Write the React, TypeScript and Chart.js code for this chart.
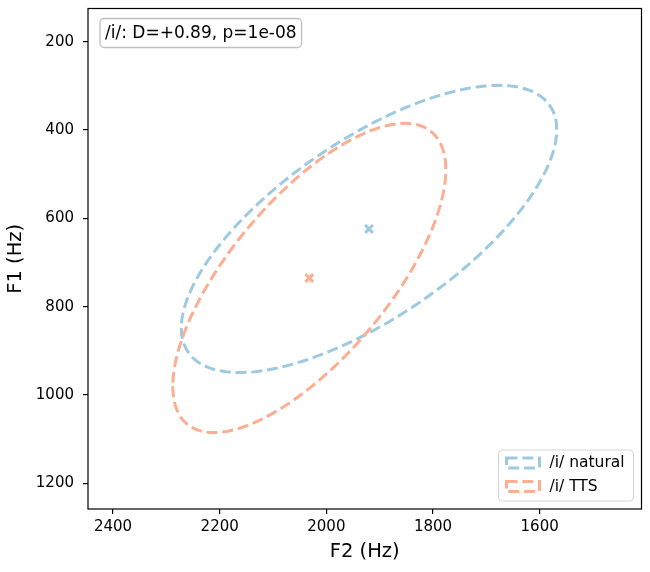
import { useEffect, useRef } from "react"
import { Chart, registerables } from "chart.js"

Chart.register(...registerables)

// Formant ellipses (F2 on x, F1 on y, both in Hz)
const groups = ["/i/ natural", "/i/ TTS"]
const colors = ["#9ecae1", "#fcae91"]
const centerF2 = [1920, 2032]
const centerF1 = [624, 735]
const spreadF2 = [352, 256]
const spreadF1 = [325, 350]
const correlation = [0.69, 0.7]
const f2Ticks = [2400, 2200, 2000, 1800, 1600]
const f1Ticks = [200, 400, 600, 800, 1000, 1200]
const statLabel = "/i/: D=+0.89, p=1e-08"

const FONT = "DejaVu Sans"

// outline of an ellipse given its centre, spread along each axis and correlation
function ellipseOutline(i: number) {
  const pts: { x: number; y: number }[] = []
  const k = Math.sqrt(1 - correlation[i] * correlation[i])
  for (let s = 0; s <= 240; s++) {
    const t = (s / 240) * 2 * Math.PI
    pts.push({
      x: centerF2[i] + spreadF2[i] * Math.cos(t),
      y: centerF1[i] + spreadF1[i] * (correlation[i] * Math.cos(t) + k * Math.sin(t)),
    })
  }
  return pts
}

function roundRect(ctx: CanvasRenderingContext2D, x: number, y: number, w: number, h: number, r: number) {
  ctx.beginPath()
  ctx.moveTo(x + r, y)
  ctx.lineTo(x + w - r, y)
  ctx.arcTo(x + w, y, x + w, y + r, r)
  ctx.lineTo(x + w, y + h - r)
  ctx.arcTo(x + w, y + h, x + w - r, y + h, r)
  ctx.lineTo(x + r, y + h)
  ctx.arcTo(x, y + h, x, y + h - r, r)
  ctx.lineTo(x, y + r)
  ctx.arcTo(x, y, x + r, y, r)
  ctx.closePath()
}

const decorations = {
  id: "decorations",
  afterDraw(chart: Chart) {
    const { ctx, chartArea } = chart
    const { left, top, right, bottom } = chartArea
    ctx.save()
    // axes frame
    ctx.strokeStyle = "#000"
    ctx.lineWidth = 1.2
    ctx.setLineDash([])
    ctx.strokeRect(left, top, right - left, bottom - top)

    // stats text box
    ctx.font = `17px "${FONT}"`
    const tw = ctx.measureText(statLabel).width
    roundRect(ctx, left + 12, top + 10, tw + 10, 29, 4)
    ctx.fillStyle = "rgba(255,255,255,0.9)"
    ctx.fill()
    ctx.strokeStyle = "#bfbfbf"
    ctx.lineWidth = 1.3
    ctx.stroke()
    ctx.fillStyle = "#000"
    ctx.textBaseline = "middle"
    ctx.textAlign = "left"
    ctx.fillText(statLabel, left + 17, top + 25)

    // legend
    const lx = right - 143
    const ly = bottom - 59
    roundRect(ctx, lx, ly, 135, 51, 4)
    ctx.fillStyle = "rgba(255,255,255,0.8)"
    ctx.fill()
    ctx.strokeStyle = "#d5d5d5"
    ctx.lineWidth = 1
    ctx.stroke()
    ctx.font = `15.5px "${FONT}"`
    groups.forEach((g, i) => {
      const cy = ly + 13 + i * 23.5
      ctx.strokeStyle = colors[i]
      ctx.lineWidth = 3
      ctx.setLineDash([11, 4.8])
      ctx.strokeRect(lx + 8, cy - 5, 33, 10)
      ctx.setLineDash([])
      ctx.fillStyle = "#000"
      ctx.fillText(g, lx + 51, cy)
    })
    ctx.restore()
  },
}

export default function App() {
  const chartRef = useRef<HTMLCanvasElement>(null)
  const chartInstance = useRef<Chart | null>(null)

  useEffect(() => {
    document.body.style.margin = "0"
    if (!chartRef.current) return
    if (chartInstance.current) chartInstance.current.destroy()

    const markerSets = groups.map((g, i) => ({
      label: g + " mean",
      data: [{ x: centerF2[i], y: centerF1[i] }],
      showLine: false,
      pointStyle: "crossRot" as const,
      pointRadius: 5.5,
      pointHoverRadius: 5.5,
      borderWidth: 3,
      pointBorderWidth: 3,
      borderColor: colors[i],
      backgroundColor: colors[i],
    }))
    const ellipseSets = groups
      .map((g, i) => ({
        label: g,
        data: ellipseOutline(i),
        showLine: true,
        fill: false,
        pointRadius: 0,
        pointHoverRadius: 0,
        borderWidth: 3,
        borderDash: [11, 4.8],
        borderColor: colors[i],
        backgroundColor: colors[i],
        tension: 0,
      }))
      .reverse()

    const tickFont = { family: FONT, size: 15 }
    const gridOpts = { drawOnChartArea: false, tickLength: 5, color: "#000", lineWidth: 1.2 }

    chartInstance.current = new Chart(chartRef.current, {
      type: "scatter",
      data: { datasets: [...markerSets, ...ellipseSets] as any },
      options: {
        responsive: false,
        animation: false,
        layout: { padding: { top: 7, right: 7, left: 0, bottom: 0 } },
        plugins: {
          legend: { display: false },
          tooltip: { enabled: false },
        },
        scales: {
          x: {
            type: "linear",
            reverse: true,
            min: 1409,
            max: 2447,
            afterBuildTicks: (s: any) => {
              s.ticks = f2Ticks.map((v) => ({ value: v }))
            },
            afterFit: (s: any) => {
              s.height = 63
              s.paddingLeft = 0
              s.paddingRight = 0
            },
            ticks: { font: tickFont, color: "#000", padding: 4, callback: (v: any) => String(v), maxRotation: 0 },
            grid: gridOpts,
            border: { display: false },
            title: { display: true, text: "F2 (Hz)", color: "#000", font: { family: FONT, size: 19.5 }, padding: { top: 0, bottom: 8 } },
          },
          y: {
            type: "linear",
            reverse: true,
            min: 125,
            max: 1258,
            afterBuildTicks: (s: any) => {
              s.ticks = f1Ticks.map((v) => ({ value: v }))
            },
            afterFit: (s: any) => {
              s.width = 88
              s.paddingTop = 0
              s.paddingBottom = 0
            },
            ticks: { font: tickFont, color: "#000", padding: 9, callback: (v: any) => String(v) },
            grid: gridOpts,
            border: { display: false },
            title: { display: true, text: "F1 (Hz)", color: "#000", font: { family: FONT, size: 19.5 }, padding: { top: 4, bottom: 0 } },
          },
        },
      },
      plugins: [decorations],
    })

    return () => {
      if (chartInstance.current) {
        chartInstance.current.destroy()
        chartInstance.current = null
      }
    }
  }, [])

  return (
    <div style={{ width: 650, height: 572, background: "#fff" }}>
      <canvas ref={chartRef} width={650} height={572}></canvas>
    </div>
  )
}
